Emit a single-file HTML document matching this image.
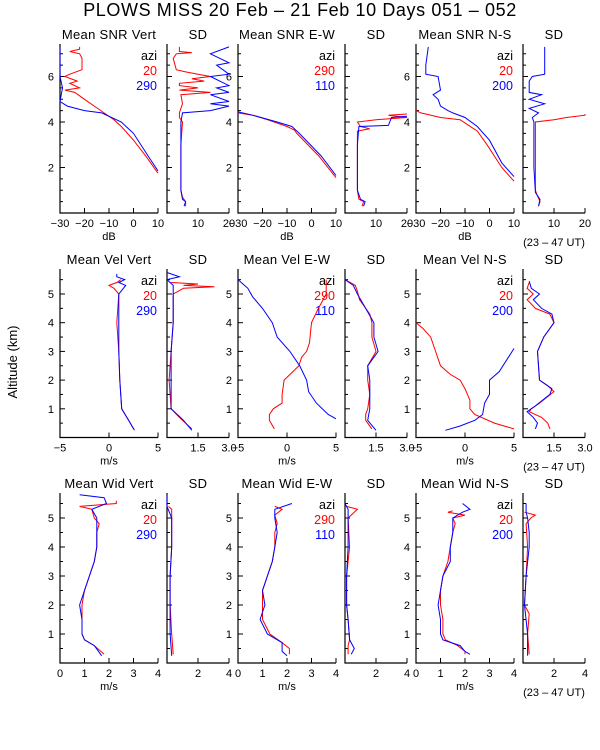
<!DOCTYPE html>
<html><head><meta charset="utf-8"><style>
html,body{margin:0;padding:0;background:#fff;}
svg{display:block;font-family:"Liberation Sans",sans-serif;}
</style></head><body>
<svg id="c" width="600" height="750" viewBox="0 0 600 750">
<text x="300" y="16" font-size="18" letter-spacing="0.6" text-anchor="middle">PLOWS MISS  20 Feb – 21 Feb 10 Days 051 – 052</text>
<text transform="translate(17,362) rotate(-90)" font-size="13" text-anchor="middle">Altitude (km)</text>
</svg>
<script>
// ---- data: [altitude km, value] ----
const snrVertRed=[[1.75,10],[2.5,5],[3.2,0],[3.8,-5],[4.1,-8],[4.4,-12],[4.7,-16],[5.0,-20],[5.3,-24],[5.4,-28],[5.5,-22],[5.7,-26],[5.8,-23],[6.0,-28],[6.1,-26],[6.3,-21],[6.8,-21],[7.0,-22],[7.1,-26],[7.2,-22],[7.3,-22]];
const snrVertBlue=[[1.85,10],[2.5,6],[3.5,0],[4.0,-5],[4.4,-13],[4.5,-20],[4.7,-27],[4.9,-30],[5.5,-29],[6.0,-30],[7.3,-30]];
const sdSnrVertRed=[[0.3,6],[0.5,6],[0.7,5],[1.0,4.5],[2,4.5],[3,4.5],[4,5],[4.2,4],[4.4,4],[4.8,5],[5.2,4.5],[5.3,14],[5.4,4],[5.5,10],[5.6,4],[5.7,4],[5.8,12],[5.9,8],[6.0,14],[6.1,10],[6.2,6],[6.3,3],[6.8,2],[7.0,3],[7.05,8],[7.1,4],[7.3,4]];
const sdSnrVertBlue=[[0.3,5.5],[0.5,6],[0.6,5],[1.0,4.5],[2,4.5],[3,4.5],[4,4.5],[4.4,5],[4.5,14],[4.7,20],[4.8,14],[4.9,20],[5.2,14],[5.3,20],[5.5,16],[5.6,20],[6.0,14],[6.1,20],[6.5,16],[6.6,20],[7.0,14],[7.3,20]];
const snrEWRed=[[1.55,10],[2.5,3],[3.5,-6],[3.65,-7],[3.8,-10],[4.1,-18],[4.3,-24],[4.4,-30]];
const snrEWBlue=[[1.65,10],[2.5,4],[3.5,-5],[3.8,-8],[4.0,-14],[4.3,-24],[4.45,-30]];
const sdSnrEWRed=[[0.3,5.5],[0.5,6],[0.6,4.5],[1,4],[2,4],[3,4],[3.6,4],[3.7,8],[3.8,5],[4.0,4],[4.1,10],[4.2,20],[4.3,14],[4.35,20]];
const sdSnrEWBlue=[[0.3,6],[0.5,6.5],[0.6,5],[1,4],[2,4],[3,4],[3.8,4.5],[3.85,14],[4.2,15],[4.25,20]];
const snrNSRed=[[1.4,10],[2,5],[3,-1],[3.6,-5],[4.1,-12],[4.2,-20],[4.4,-28],[4.5,-30]];
const snrNSBlue=[[1.6,10],[2.2,5],[3.2,0],[3.8,-5],[4.2,-10],[4.4,-15],[4.5,-17],[4.7,-20],[5.0,-21],[5.2,-23],[5.4,-20],[6.0,-21],[6.1,-26],[6.5,-26],[7.3,-25]];
const sdSnrNSRed=[[0.3,5],[0.5,5.5],[0.8,4.5],[1,4],[2,4],[3,4],[4,4],[4.1,10],[4.2,14],[4.3,20],[4.35,20]];
const sdSnrNSBlue=[[0.3,5],[0.6,5.5],[0.9,4],[2,3.5],[3,3.5],[4.0,3.5],[4.2,3],[4.4,5],[4.6,2],[4.8,7],[5.0,2],[5.2,6],[5.3,2],[5.8,2],[6.0,3],[6.1,7],[7.3,7]];
const velVertRed=[[0.3,2.5],[0.6,2],[1,1.3],[2,1.1],[3,1],[4,0.8],[5,1],[5.2,0.5],[5.3,0],[5.4,0.8],[5.5,1.2]];
const velVertBlue=[[0.25,2.6],[0.6,2],[1,1.3],[2,1.1],[3,1],[4,1],[5,1],[5.3,1.7],[5.4,1],[5.5,1.6],[5.6,0.8],[5.7,0.8]];
const sdVelVertRed=[[0.3,1.2],[0.7,0.6],[1,0.2],[2,0.1],[3,0.2],[4,0.3],[5,0.3],[5.2,0.8],[5.25,2.3],[5.3,0.8],[5.35,1.5],[5.4,0.2]];
const sdVelVertBlue=[[0.25,1.2],[0.6,0.8],[1,0.2],[2,0.2],[3,0.2],[4,0.3],[5,0.3],[5.3,0.3],[5.5,0],[5.6,0.6],[5.75,0]];
const velEWRed=[[0.3,-1.3],[0.6,-1.8],[0.8,-1.8],[1.0,-1.4],[1.2,-0.5],[1.5,-0.5],[2,-0.3],[2.5,1.2],[2.8,1.5],[3,2],[3.3,2.3],[4,2.5],[4.5,3.2],[5,4],[5.5,4]];
const velEWBlue=[[0.65,5],[0.8,4.2],[1.2,3],[1.6,2.2],[2,2],[2.5,1.3],[3,0.3],[3.5,-1],[4,-1.5],[4.5,-2.5],[4.9,-3.5],[5.2,-4],[5.5,-5]];
const sdVelEWRed=[[0.3,1.3],[0.6,1],[0.8,1],[1,1.1],[1.5,1.2],[2,1.1],[2.5,1.1],[3,1.5],[3.5,1.3],[4,1.3],[4.3,1.2],[4.8,0.7],[5.1,0.6],[5.3,0.5],[5.5,0]];
const sdVelEWBlue=[[0.25,1.5],[0.6,1.1],[1,1.2],[2,1.2],[2.5,1.1],[3,1.6],[3.5,1.4],[4,1.4],[4.5,1],[5,0.6],[5.3,0.4],[5.5,0]];
const velNSRed=[[0.3,5],[0.5,3],[0.8,1],[1,0.5],[1.3,0.5],[1.7,0],[2,-0.5],[2.2,-1.5],[2.5,-2.5],[3,-3],[3.5,-3.5],[3.8,-4.3],[4.0,-5]];
const velNSBlue=[[0.25,-2],[0.4,-0.5],[0.6,1],[0.8,1.8],[1.2,2],[1.5,2.5],[2,2.5],[2.3,3.5],[3.1,5]];
const sdVelNSRed=[[0.3,1.3],[0.5,1.2],[0.7,0.9],[0.9,0.3],[1,0.4],[1.2,0.8],[1.6,1.5],[1.8,1.2],[2,0.8],[3,0.7],[3.5,1],[4,1.5],[4.3,1.3],[4.5,0.6],[4.8,0.2],[5,0.5],[5.2,0.2],[5.4,0.3]];
const sdVelNSBlue=[[0.3,0.6],[0.5,0.7],[0.7,0.5],[0.9,0.2],[1.1,0.6],[1.5,1.3],[1.7,1.4],[2,0.8],[3,0.7],[3.5,1],[4,1.5],[4.3,1.4],[4.5,0.9],[4.8,0.5],[5.0,0.8],[5.2,0.4],[5.45,0.3]];
const widVertRed=[[0.3,1.8],[0.6,1.4],[0.8,1.0],[1,0.9],[1.5,0.9],[2,0.9],[2.5,1.0],[3,1.2],[3.5,1.4],[4,1.5],[4.5,1.5],[4.8,1.6],[5,1.4],[5.3,1.3],[5.4,0.8],[5.5,2.3],[5.6,2.3]];
const widVertBlue=[[0.25,1.7],[0.6,1.4],[0.8,1.0],[1,0.9],[1.5,0.9],[2,0.8],[2.5,1.0],[3,1.2],[3.5,1.4],[4,1.5],[5,1.5],[5.3,1.3],[5.5,1.9],[5.7,1.8],[5.8,0.8]];
const sdWidVertRed=[[0.3,0.4],[1,0.3],[2,0.2],[3,0.2],[4,0.3],[5,0.3],[5.3,0.3],[5.4,0.1]];
const sdWidVertBlue=[[0.25,0.3],[1,0.2],[2,0.2],[3,0.2],[4,0.3],[5,0.3],[5.4,0],[5.8,0]];
const widEWRed=[[0.3,2.1],[0.5,2.1],[0.7,1.8],[1,1.3],[1.5,1.0],[2,1.0],[2.5,1.0],[3,1.2],[3.5,1.4],[4,1.5],[4.5,1.5],[4.8,1.6],[5.1,1.5],[5.3,1.8],[5.4,1.5]];
const widEWBlue=[[0.25,2],[0.4,1.8],[0.7,1.8],[1,1.2],[1.5,0.9],[2,1.1],[2.5,1.0],[3,1.2],[3.5,1.4],[4,1.5],[4.5,1.6],[5,1.5],[5.3,1.5],[5.5,2.2]];
const sdWidEWRed=[[0.3,0.2],[0.6,0.2],[0.8,0.3],[1.5,0.2],[2,0.1],[3,0.1],[4,0.3],[5,0.2],[5.3,0.8],[5.4,0.1]];
const sdWidEWBlue=[[0.3,0.4],[0.5,0.6],[0.8,0.3],[1.5,0.2],[2,0.1],[3,0.1],[4,0.2],[5,0.2],[5.3,0.2],[5.5,0]];
const widNSRed=[[0.3,2],[0.4,2],[0.6,1.7],[0.8,1.2],[1,1.1],[1.5,1.1],[2,1.0],[2.5,1.0],[3,1.1],[3.5,1.3],[4,1.4],[4.5,1.5],[4.8,1.6],[5,1.5],[5.1,2.0],[5.2,1.3],[5.25,1.5]];
const widNSBlue=[[0.3,2.2],[0.4,2],[0.6,1.8],[0.8,1.1],[1,1.0],[1.5,1.0],[2,0.9],[2.5,1.0],[3,1.1],[3.5,1.4],[4,1.4],[4.5,1.5],[5,1.5],[5.2,1.9],[5.3,2.2],[5.5,1.9]];
const sdWidNSRed=[[0.3,0.4],[1,0.3],[1.7,0.4],[2,0.1],[3,0.2],[4,0.3],[4.8,0.2],[5,0.5],[5.1,0.8],[5.2,0.1]];
const sdWidNSBlue=[[0.25,0.3],[1,0.3],[2,0.1],[3,0.2],[4,0.4],[4.5,0.4],[5,0.3],[5.2,0.2],[5.5,0.2]];

const snrTicks=[-30,-20,-10,0,10], sdSnrTicks=[10,20];
const velTicks=[-5,0,5], sdVelTicks=["1.5","3.0"];
const widTicks=[0,1,2,3,4], sdWidTicks=[2,4];
const row1YTicks=[2,4,6], rowYTicks=[1,2,3,4,5];
const azis=[["20","290"],["290","110"],["20","200"]];
const dirs=["Vert","E-W","N-S"];

const svg=document.getElementById('c');
const NS='http://www.w3.org/2000/svg';
function el(t,a,txt){const e=document.createElementNS(NS,t);for(const k in a)e.setAttribute(k,a[k]);if(txt!==undefined)e.textContent=txt;svg.appendChild(e);return e;}

const rows=[
 {bot:213,top:44,ppk:22.75,maj:row1YTicks,minStep:0.5,max:7.43,kind:'SNR',unit:'dB',mr:[-30,10],mt:snrTicks,sr:[0,20],st:sdSnrTicks,
  data:[[snrVertRed,snrVertBlue,sdSnrVertRed,sdSnrVertBlue],[snrEWRed,snrEWBlue,sdSnrEWRed,sdSnrEWBlue],[snrNSRed,snrNSBlue,sdSnrNSRed,sdSnrNSBlue]]},
 {bot:437.5,top:269,ppk:28.7,maj:rowYTicks,minStep:0.5,max:5.87,kind:'Vel',unit:'m/s',mr:[-5,5],mt:velTicks,sr:[0,3],st:sdVelTicks,
  data:[[velVertRed,velVertBlue,sdVelVertRed,sdVelVertBlue],[velEWRed,velEWBlue,sdVelEWRed,sdVelEWBlue],[velNSRed,velNSBlue,sdVelNSRed,sdVelNSBlue]]},
 {bot:663,top:493,ppk:29,maj:rowYTicks,minStep:0.5,max:5.86,kind:'Wid',unit:'m/s',mr:[0,4],mt:widTicks,sr:[0,4],st:sdWidTicks,
  data:[[widVertRed,widVertBlue,sdWidVertRed,sdWidVertBlue],[widEWRed,widEWBlue,sdWidEWRed,sdWidEWBlue],[widNSRed,widNSBlue,sdWidNSRed,sdWidNSBlue]]}
];
const meanL=[60,238,416], sdL=[167,345,523], MW=98, SW=62;

rows.forEach((r,ri)=>{
 const yS=a=>r.bot-a*r.ppk;
 for(let p=0;p<3;p++){
  const panels=[{L:meanL[p],W:MW,rng:r.mr,ticks:r.mt,title:'Mean '+r.kind+' '+dirs[p],series:[r.data[p][0],r.data[p][1]],mean:true},
                {L:sdL[p],W:SW,rng:r.sr,ticks:r.st,title:'SD',series:[r.data[p][2],r.data[p][3]],mean:false}];
  panels.forEach(pn=>{
   const xS=v=>pn.L+(v-pn.rng[0])/(pn.rng[1]-pn.rng[0])*pn.W;
   const t=el('text',{x:pn.L+pn.W/2,y:r.top-5,'font-size':13,'letter-spacing':0.3,'text-anchor':'middle'},pn.title);
   
   
   const ax=el('path',{d:`M${pn.L} ${r.top}V${r.bot}H${pn.L+pn.W}`,fill:'none',stroke:'#000','stroke-width':1.2});
   
   
   for(let a=r.minStep;a<=r.max;a+=r.minStep){
    const isMaj=r.maj.some(m=>Math.abs(m-a)<1e-6);
    const y=yS(a);
    const tk=el('line',{x1:pn.L,x2:pn.L+(isMaj?5:3),y1:y,y2:y,stroke:'#000'});
    
    
    if(isMaj&&pn.mean){
     const lb=el('text',{x:pn.L-6,y:y+4,'font-size':11,'text-anchor':'end'},String(a));
     
     
    }
   }
   pn.ticks.forEach(v=>{
    const x=xS(parseFloat(v));
    const tk=el('line',{x1:x,x2:x,y1:r.bot,y2:r.bot-5,stroke:'#000'});
    
    
    const lb=el('text',{x:x,y:r.bot+14,'font-size':11,'text-anchor':'middle'},String(v).replace('-','−'));
    
    
   });
   if(pn.mean){
    const u=el('text',{x:pn.L+pn.W/2,y:r.bot+27,'font-size':11,'text-anchor':'middle'},r.unit);
    
    
    const lg=[['azi','#000'],[azis[p][0],'#f00'],[azis[p][1],'#00f']];
    lg.forEach((g,i)=>{
     const e=el('text',{x:pn.L+pn.W-1,y:r.top+16+i*15,'font-size':12.5,'text-anchor':'end',fill:g[1]},g[0]);
     
     
    });
   }
   ['#f00','#00f'].forEach((c,si)=>{
    const pts=pn.series[si].map(d=>{const v=Math.max(pn.rng[0],Math.min(pn.rng[1],d[1]));return xS(v).toFixed(1)+','+yS(d[0]).toFixed(1);}).join(' ');
    const pl=el('polyline',{points:pts,fill:'none',stroke:c,'stroke-width':1});
    
    
   });
  });
 }
 const ut=el('text',{x:554,y:r.bot+33,'font-size':11,'text-anchor':'middle'},'(23 – 47 UT)');
 
 
});
</script>
</body></html>
